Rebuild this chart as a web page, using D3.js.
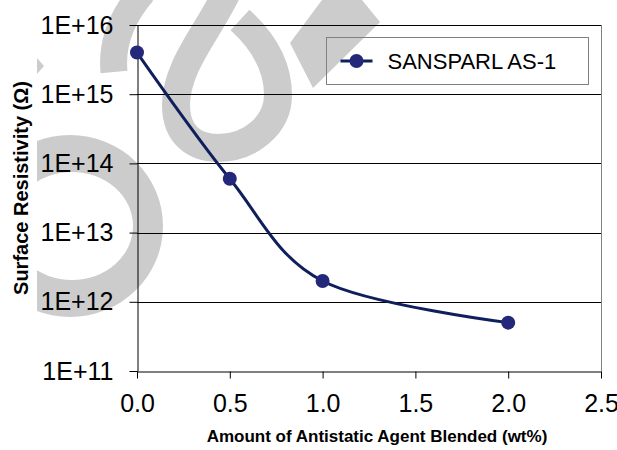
<!DOCTYPE html>
<html>
<head>
<meta charset="utf-8">
<script src="https://cdn.jsdelivr.net/npm/d3@7"></script>
<style>
  body { margin: 0; background: #ffffff; }
  svg { display: block; font-family: "Liberation Sans", Arial, sans-serif; }
</style>
</head>
<body>
<div id="chart"></div>
<script>
// ------------------------------- DATA ------------------------------------
var amount = [0.0, 0.5, 1.0, 2.0];                 // wt%
var resistivity = [4e15, 6e13, 2e12, 5e11];        // ohm
var seriesName = "SANSPARL AS-1";
var xTicks = [0.0, 0.5, 1.0, 1.5, 2.0, 2.5];
var yTicks = [1e11, 1e12, 1e13, 1e14, 1e15, 1e16];
var xTitle = "Amount of Antistatic Agent Blended (wt%)";
var yTitle = "Surface Resistivity (\u03A9)";

var W = 617, H = 450;
var plotLeft = 137, plotRight = 601, plotTop = 25, plotBottom = 371;

var svg = d3.select("#chart").append("svg").attr("width", W).attr("height", H);

// ------------------------------- WATERMARK (gray glyph shapes) ------------
var wm = svg.append("g").attr("class", "watermark");
var grey = "#cccccc";

svg.append("defs").append("clipPath").attr("id", "wmclip")
  .append("rect").attr("x", 37).attr("y", 0).attr("width", W).attr("height", H);

// right half of a ring on the left side
function ellipse(cx, cy, rx, ry) {
  return "M" + (cx - rx) + "," + cy +
    "A" + rx + "," + ry + " 0 1,0 " + (cx + rx) + "," + cy +
    "A" + rx + "," + ry + " 0 1,0 " + (cx - rx) + "," + cy + "Z";
}
wm.append("path")
  .attr("d", ellipse(70, 226, 93, 91) + ellipse(72, 226, 61, 54))
  .attr("fill-rule", "evenodd")
  .attr("clip-path", "url(#wmclip)")
  .attr("fill", grey);

// top loop
wm.append("path")
  .attr("d", "M229,-12 C210,30 176,65 176,105 C176,135 195,148 218,148 C250,148 278,125 278,95 C278,65 262,40 240,20")
  .attr("fill", "none").attr("stroke", grey).attr("stroke-width", 28);

// left stroke at the top
wm.append("path")
  .attr("d", "M143,-8 Q110,30 114,72")
  .attr("fill", "none").attr("stroke", grey).attr("stroke-width", 27);

// diagonal stroke top right
wm.append("path")
  .attr("d", "M322,0 L362,0 L380,22 L313,88 L290,43 Z")
  .attr("fill", grey);

// small corner piece
wm.append("path")
  .attr("d", "M37,58 L44,66 L37,74 Z")
  .attr("fill", grey);

// ------------------------------- SCALES ------------------------------------
var x = d3.scaleLinear().domain([0, 2.5]).range([plotLeft, plotRight]);
var y = d3.scaleLog().domain([1e11, 1e16]).range([plotBottom, plotTop]);

// ------------------------------- GRID ------------------------------------
svg.append("g").selectAll("line").data(yTicks.slice(1)).enter()
  .append("line")
  .attr("x1", plotLeft).attr("x2", plotRight)
  .attr("y1", d => Math.round(y(d)) + 0.5)
  .attr("y2", d => Math.round(y(d)) + 0.5)
  .attr("stroke", "#000").attr("stroke-width", 1);

// right border
svg.append("line")
  .attr("x1", plotRight + 0.5).attr("x2", plotRight + 0.5)
  .attr("y1", plotTop).attr("y2", plotBottom)
  .attr("stroke", "#808080").attr("stroke-width", 1);

// ------------------------------- AXES ------------------------------------
var yAxis = svg.append("g")
  .attr("transform", "translate(" + (plotLeft + 0.5) + ",0)")
  .call(d3.axisLeft(y).tickValues(yTicks)
    .tickFormat(d => "1E+" + Math.round(Math.log10(d)))
    .tickSize(8).tickSizeOuter(0).tickPadding(16));

var xAxis = svg.append("g")
  .attr("transform", "translate(0," + (plotBottom + 0.5) + ")")
  .call(d3.axisBottom(x).tickValues(xTicks)
    .tickFormat(d3.format(".1f"))
    .tickSize(7).tickSizeOuter(0).tickPadding(16));

[yAxis, xAxis].forEach(function(a) {
  a.selectAll("path, line").attr("stroke", "#000");
  a.selectAll("text").attr("fill", "#000")
    .style("font-size", "25px").style("font-family", "'Liberation Sans', Arial, sans-serif");
});

// ------------------------------- TITLES ------------------------------------
svg.append("text")
  .attr("x", 377).attr("y", 442)
  .attr("text-anchor", "middle")
  .style("font-size", "17px").style("font-weight", "bold")
  .text(xTitle);

svg.append("text")
  .attr("transform", "translate(28,188) rotate(-90)")
  .attr("text-anchor", "middle")
  .style("font-size", "20px").style("font-weight", "bold")
  .text(yTitle);

// ------------------------------- SERIES ------------------------------------
var pts = amount.map((d, i) => [d, resistivity[i]]);
var line = d3.line()
  .x(d => x(d[0])).y(d => y(d[1]))
  .curve(d3.curveCardinal.tension(0));

svg.append("path").datum(pts)
  .attr("d", line)
  .attr("fill", "none")
  .attr("stroke", "#0f1f5c").attr("stroke-width", 3);

svg.selectAll("circle.pt").data(pts).enter()
  .append("circle").attr("class", "pt")
  .attr("cx", d => x(d[0])).attr("cy", d => y(d[1]))
  .attr("r", 7)
  .attr("fill", "#23287a");

// ------------------------------- LEGEND ------------------------------------
var lg = svg.append("g").attr("transform", "translate(326.5,37.5)");
lg.append("rect").attr("width", 262).attr("height", 47)
  .attr("fill", "none").attr("stroke", "#808080");
lg.append("line").attr("x1", 14).attr("x2", 46).attr("y1", 23.5).attr("y2", 23.5)
  .attr("stroke", "#0f1f5c").attr("stroke-width", 3);
lg.append("circle").attr("cx", 30).attr("cy", 23.5).attr("r", 7).attr("fill", "#23287a");
lg.append("text").attr("x", 61).attr("y", 31)
  .style("font-size", "22px").attr("fill", "#000")
  .text(seriesName);
</script>
</body>
</html>
